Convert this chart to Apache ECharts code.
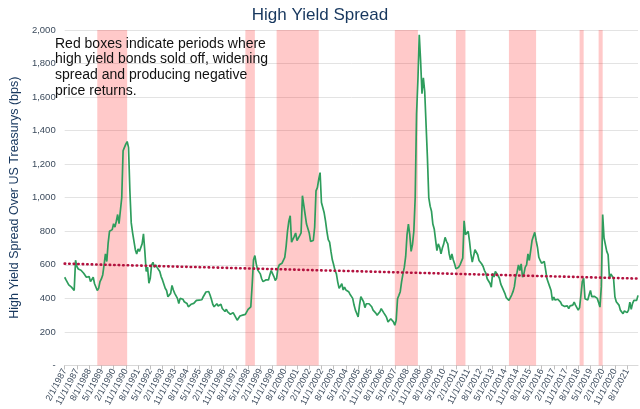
<!DOCTYPE html>
<html>
<head>
<meta charset="utf-8">
<script src="https://cdn.jsdelivr.net/npm/echarts@6/dist/echarts.min.js"></script>
<style>
html,body{margin:0;padding:0;background:#fff;}
#c{width:640px;height:409px;}
</style>
</head>
<body>
<div id="c"></div>
<script>
// ---- data ----
const startYear = 1987, startMonth = 2; // first observation 2/1/1987, monthly
const spreadBps = [
526,510,495,480,470,467,475,447,627,590,575,565,568,560,550,540,526,516,530,500,
496,526,487,477,447,460,500,516,540,600,665,620,730,800,805,810,845,825,860,900,
845,850,1000,1280,1300,1320,1335,1300,1040,850,790,780,690,665,695,680,690,725,785,680,
560,586,490,520,600,615,585,600,585,580,560,530,510,500,460,447,410,400,430,477,
450,430,415,400,370,400,390,395,380,385,370,350,355,365,360,370,378,388,380,390,
398,392,410,420,438,445,441,420,395,365,350,360,368,355,348,365,340,330,322,335,
320,312,305,295,315,300,285,270,275,295,305,300,290,305,320,335,345,350,480,630,
655,606,570,560,546,517,500,500,510,517,510,540,566,560,530,507,520,580,600,606,
610,616,645,710,800,860,893,735,725,770,790,745,750,774,790,1012,1002,900,843,853,
790,740,735,745,824,1041,1060,1110,1150,972,962,910,860,800,750,735,680,630,600,566,
546,497,460,470,487,450,467,450,447,440,425,428,400,360,330,310,289,358,410,405,
380,345,368,368,368,365,350,330,319,312,300,310,320,339,329,312,300,285,259,269,
279,280,260,240,269,398,418,440,500,546,586,650,780,843,780,680,720,800,1000,1500,
1700,1972,1814,1620,1715,1635,1437,1239,1000,950,920,843,814,814,685,725,705,665,700,725,
764,740,725,665,630,665,630,606,576,576,586,600,610,640,863,780,770,800,740,665,
616,620,690,700,660,626,618,605,590,566,550,517,510,490,467,550,527,560,550,535,
520,485,467,460,430,405,395,388,378,420,440,470,530,556,600,566,606,527,546,586,
600,665,626,685,745,770,794,745,705,645,626,610,600,620,570,517,507,470,447,388,
408,390,380,395,385,378,360,358,352,348,355,339,355,350,360,378,360,350,330,345,
420,500,520,398,405,390,420,447,410,408,412,408,400,375,348,470,900,760,720,680,
660,520,545,540,520,410,380,372,360,330,330,309,325,320,315,330,378,335,370,388,
395,388,418
];
// sell-off periods (shaded boxes): [start, end]
const selloffPeriods = [
  ['2/1/1989','12/1/1990'],
  ['3/1/1998','10/1/1998'],
  ['2/1/2000','9/1/2002'],
  ['5/1/2007','10/1/2008'],
  ['2/1/2011','9/1/2011'],
  ['5/1/2014','1/1/2016'],
  ['9/1/2018','12/1/2018'],
  ['11/1/2019','2/1/2020']
];
// dotted trend line end points (bps)
const trendStart = 607, trendEnd = 518;
const titleText = 'High Yield Spread';
const yAxisTitle = 'High Yield Spread Over US Treasurys (bps)';
const noteLines = ['Red boxes indicate periods where','high yield bonds sold off, widening','spread and producing negative','price returns.'];

// category labels (monthly dates)
const categories = [];
for (let i = 0; i < spreadBps.length; i++) {
  const m0 = (startMonth - 1 + i);
  const y = startYear + Math.floor(m0 / 12);
  const m = (m0 % 12) + 1;
  categories.push(m + '/1/' + y);
}

const chart = echarts.init(document.getElementById('c'), null, {renderer:'canvas'});
const font = '"Liberation Sans", Arial, sans-serif';
chart.setOption({
  backgroundColor:'#ffffff',
  animation:false,
  title:{
    text:titleText, left:'center', top:2,
    textStyle:{fontFamily:font, fontSize:17, fontWeight:'normal', color:'#17375e'}
  },
  grid:{left:60, right:2, top:30, bottom:42, containLabel:false},
  xAxis:{
    type:'category', data:categories, boundaryGap:false,
    axisLine:{show:true, lineStyle:{color:'#d9d9d9', width:1}},
    axisTick:{show:true, interval:8, length:4, lineStyle:{color:'#bfbfbf'}},
    axisLabel:{interval:8, rotate:62, fontFamily:font, fontSize:9, color:'#3b4a5c', margin:4},
    splitLine:{show:false}
  },
  yAxis:{
    type:'value', min:0, max:2000, interval:200,
    name:yAxisTitle, nameLocation:'middle', nameGap:42,
    nameTextStyle:{fontFamily:font, fontSize:12.5, color:'#17375e'},
    axisLine:{show:false}, axisTick:{show:false},
    axisLabel:{fontFamily:font, fontSize:9.5, color:'#3b4a5c', margin:9,
      formatter:function(v){ return v === 0 ? '-' : v.toLocaleString('en-US'); }},
    splitLine:{show:true, lineStyle:{color:'#e3e3e3', width:1}}
  },
  graphic:[{
    type:'text', left:55, top:36, z:10,
    style:{text:noteLines.join('\n'), font:'14px ' + font, fill:'#111111', lineHeight:15.7}
  }],
  series:[
    {
      type:'line', data:spreadBps, z:2,
      showSymbol:false, symbol:'none',
      lineStyle:{color:'#2e9d5c', width:1.7},
      markLine:{
        silent:true, symbol:['none','none'], label:{show:false},
        lineStyle:{color:'#b3123f', width:2.6, type:[0.5,4], cap:'round'},
        data:[[{coord:[categories[0], trendStart]},{coord:[categories[categories.length-1], trendEnd]}]]
      }
    },
    {
      type:'line', data:[], z:4,
      markArea:{
        silent:true,
        itemStyle:{color:'rgba(255,0,0,0.21)'},
        data:selloffPeriods.map(p => [{xAxis:p[0]},{xAxis:p[1]}])
      }
    }
  ]
});
</script>
</body>
</html>
